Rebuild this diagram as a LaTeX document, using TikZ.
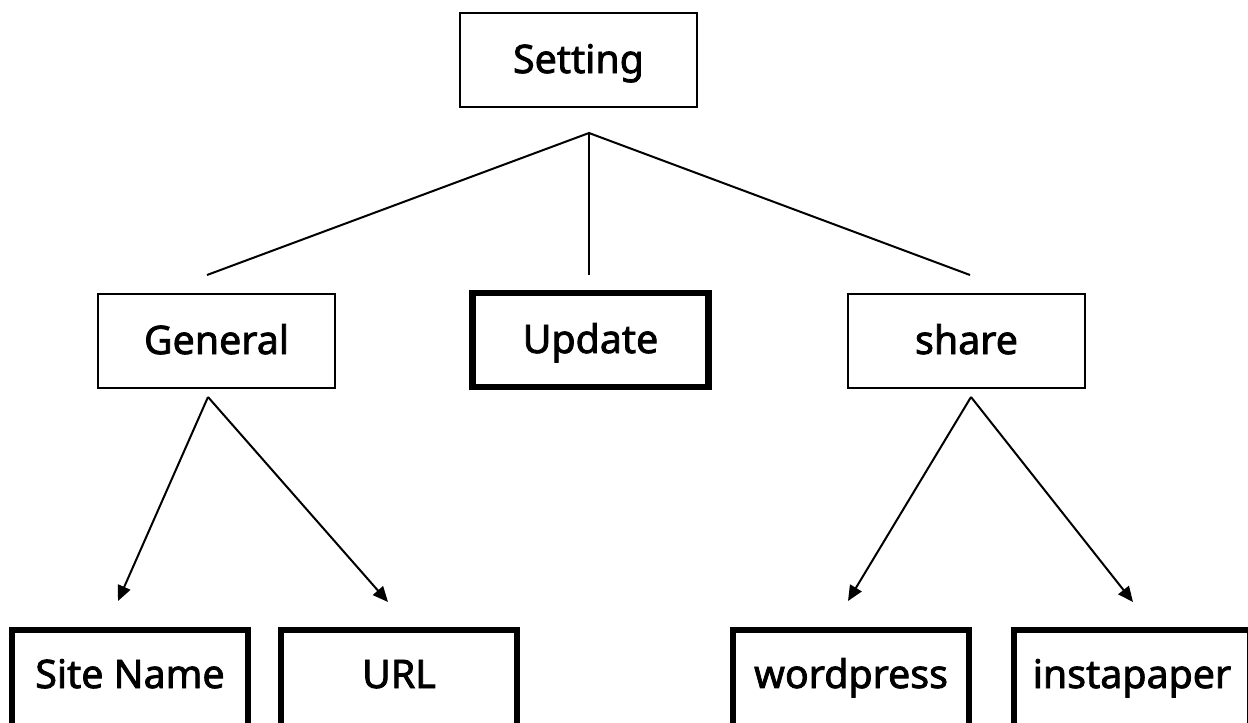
\documentclass[tikz,border=0pt]{standalone}
\usepackage{fontspec}
\setmainfont{Noto Sans}[FakeBold=2]
\usetikzlibrary{arrows.meta}
\begin{document}
\begin{tikzpicture}[x=0.75pt,y=-0.75pt,
  lab/.style={inner sep=0pt,text height=22pt,text depth=2.5pt,font=\fontsize{29.5}{36}\selectfont},
  thinbox/.style={lab,draw=black,line width=1.5pt,minimum width=177.75pt,minimum height=70.5pt},
  thickbox/.style={lab,draw=black,line width=4.8pt,minimum width=177pt,minimum height=70.5pt},
  bottombox/.style={thickbox,minimum height=82.5pt,text depth=17.5pt},
  link/.style={line width=1.5pt},
  arrow/.style={line width=1.5pt,-{Triangle[length=11.5pt,width=10pt]}}]
\useasboundingbox (0,0) rectangle (1248,722);
\node[thinbox] (setting) at (578.5,60) {Setting};
\node[thinbox] (general) at (216.5,341) {General};
\node[thickbox] (update) at (590.5,340) {Update};
\node[thinbox] (share) at (966.5,341) {share};
\node[bottombox] (sitename) at (130,685) {Site Name};
\node[bottombox] (url) at (399,685) {URL};
\node[bottombox] (wordpress) at (851,685) {wordpress};
\node[bottombox] (instapaper) at (1132,685) {instapaper};
\coordinate (sapex) at (589,133);
\coordinate (genin) at (207,275);
\coordinate (updin) at (589,275);
\coordinate (shain) at (970,275);
\coordinate (gapex) at (208,397);
\coordinate (hapex) at (971,397);
\coordinate (sitein) at (118,601);
\coordinate (urlin) at (388,602);
\coordinate (wpin) at (848,601);
\coordinate (ipin) at (1133,602);
\draw[link] (genin) -- (sapex) -- (shain);
\draw[link] (sapex) -- (updin);
\draw[arrow] (gapex) -- (sitein);
\draw[arrow] (gapex) -- (urlin);
\draw[arrow] (hapex) -- (wpin);
\draw[arrow] (hapex) -- (ipin);
\end{tikzpicture}
\end{document}
